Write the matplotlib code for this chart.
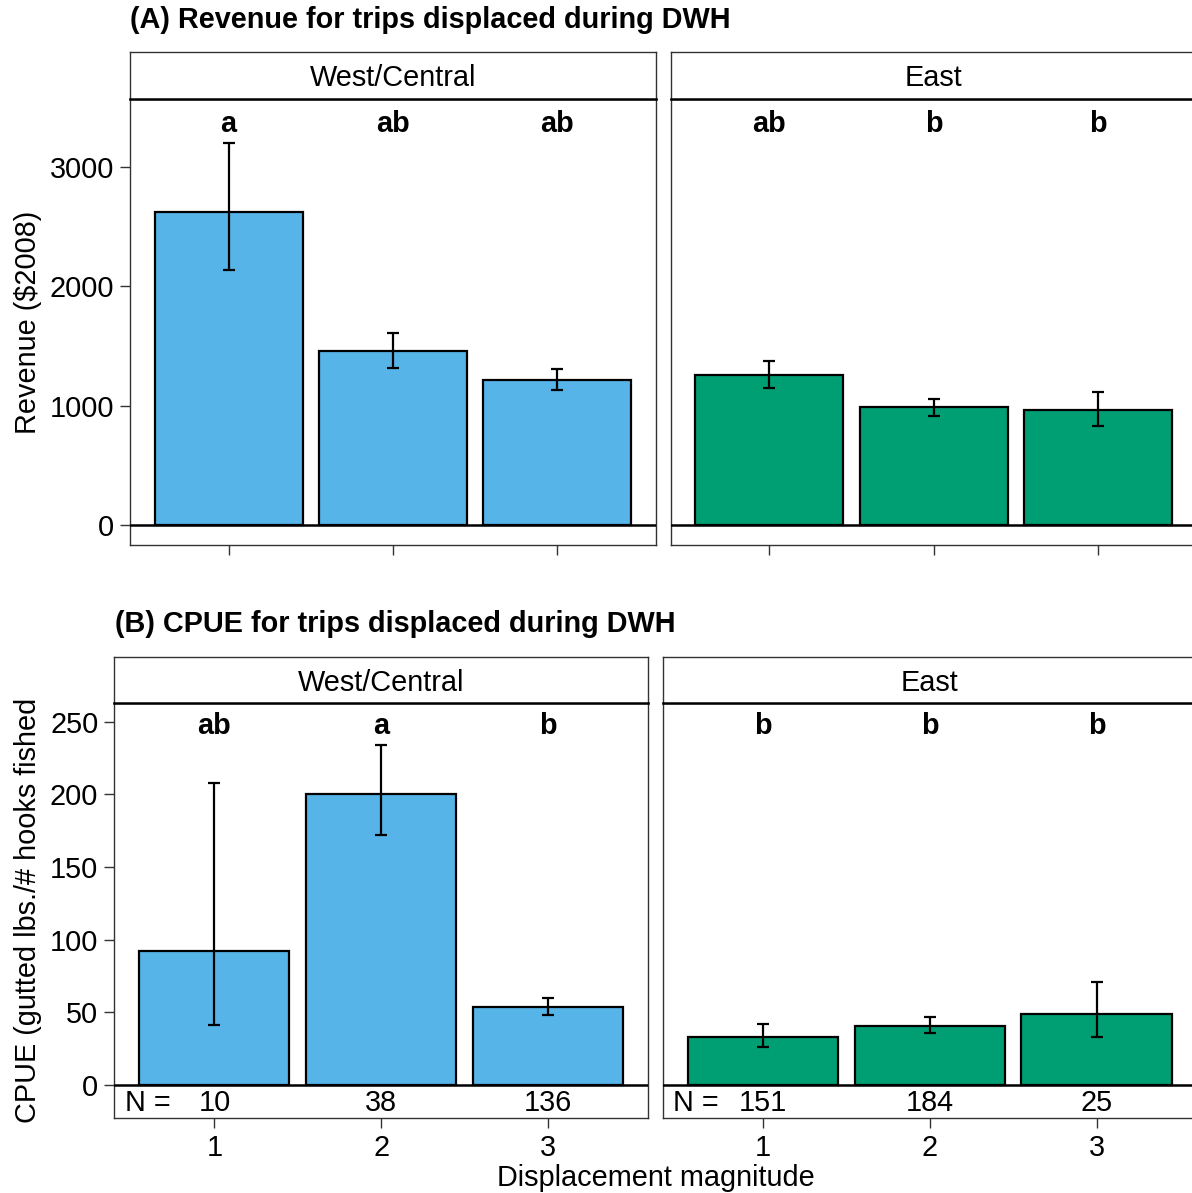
import matplotlib
matplotlib.use("Agg")
import matplotlib.pyplot as plt
import numpy as np

plt.rcParams["font.family"] = ["Liberation Sans", "DejaVu Sans"]

W, H, DPI = 1192, 1193, 100
FS = 20.8

magnitudes = [1, 2, 3]
regions = ["West/Central", "East"]
region_colors = ["#56B4E9", "#009E73"]

# (A) revenue per trip, $2008: means with lower/upper interval bounds
wc_revenue = [2620, 1458, 1211]
wc_revenue_lo = [2139, 1317, 1132]
wc_revenue_hi = [3197, 1611, 1304]
east_revenue = [1253, 985, 962]
east_revenue_lo = [1151, 917, 831]
east_revenue_hi = [1374, 1055, 1116]
wc_revenue_groups = ["a", "ab", "ab"]
east_revenue_groups = ["ab", "b", "b"]

# (B) CPUE: means with lower/upper interval bounds
wc_cpue = [92.3, 200.0, 53.2]
wc_cpue_lo = [41.0, 171.7, 48.3]
wc_cpue_hi = [208.1, 234.3, 59.5]
east_cpue = [32.9, 40.5, 48.6]
east_cpue_lo = [25.9, 35.8, 33.2]
east_cpue_hi = [42.0, 46.5, 71.0]
wc_cpue_groups = ["ab", "a", "b"]
east_cpue_groups = ["b", "b", "b"]

wc_n = [10, 38, 136]
east_n = [151, 184, 25]

revenue_ticks = [0, 1000, 2000, 3000]
cpue_ticks = [0, 50, 100, 150, 200, 250]

fig = plt.figure(figsize=(W / DPI, H / DPI), dpi=DPI)
fig.patch.set_facecolor("white")


def px_axes(left, top, right, bottom):
    return fig.add_axes([left / W, 1 - bottom / H, (right - left) / W, (bottom - top) / H])


def fig_text(x, y, s, **kw):
    fig.text(x / W, 1 - y / H, s, **kw)


def strip(left, top, right, bottom, label, base_frac):
    sax = px_axes(left, top, right, bottom)
    sax.set_xticks([])
    sax.set_yticks([])
    sax.set_facecolor("white")
    for side in ["top", "left", "right"]:
        sax.spines[side].set_color("#333333")
        sax.spines[side].set_linewidth(1.0)
    sax.spines["bottom"].set_color("black")
    sax.spines["bottom"].set_linewidth(1.8)
    sax.text(0.5, base_frac, label, transform=sax.transAxes, ha="center",
             va="baseline", fontsize=FS, color="black")


def panel(ax, means, lo, hi, groups, color, ylim, show_y, yticks):
    means = np.asarray(means, float)
    err = [means - np.asarray(lo), np.asarray(hi) - means]
    ax.bar(magnitudes, means, width=0.9, color=color, edgecolor="black",
           linewidth=1.6, zorder=2)
    ax.errorbar(magnitudes, means, yerr=err, fmt="none", ecolor="black",
                elinewidth=1.6, capsize=4.5, capthick=1.6, zorder=3)
    ax.axhline(0, color="black", linewidth=1.8, zorder=4)
    ax.set_xlim(0.4, 3.6)
    ax.set_ylim(*ylim)
    ax.set_xticks(magnitudes)
    for s in ax.spines.values():
        s.set_color("#333333")
        s.set_linewidth(1.0)
    ax.tick_params(axis="both", length=7, width=1.0, color="#333333",
                   labelsize=FS, labelcolor="black", pad=4.5)
    if show_y:
        ax.set_yticks(yticks)
    else:
        ax.set_yticks([])
    for x, g in zip(magnitudes, groups):
        ax.text(x, 0.925, g, transform=ax.get_xaxis_transform(), ha="center",
                va="baseline", fontsize=FS, fontweight="bold", color="black")


# ---- (A) Revenue ----
a_top, a_bot, a_strip = 98.7, 545.4, 51.7
a_cols = [(130.0, 656.0), (670.6, 1196.6)]
a_data = [
    (wc_revenue, wc_revenue_lo, wc_revenue_hi, wc_revenue_groups),
    (east_revenue, east_revenue_lo, east_revenue_hi, east_revenue_groups),
]
for i, ((l, r), (m, lo, hi, g)) in enumerate(zip(a_cols, a_data)):
    ax = px_axes(l, a_top, r, a_bot)
    panel(ax, m, lo, hi, g, region_colors[i], (-170, 3570), i == 0, revenue_ticks)
    ax.set_xticklabels([])
    strip(l, a_strip, r, a_top, regions[i], 0.27)

fig_text(130, 28, "(A) Revenue for trips displaced during DWH", fontsize=FS,
         fontweight="bold", ha="left", va="baseline")
fig_text(36, (a_top + a_bot) / 2, "Revenue ($2008)", fontsize=FS, rotation=90,
         rotation_mode="anchor", ha="center", va="baseline")

# ---- (B) CPUE ----
b_top, b_bot, b_strip = 702.9, 1118.1, 656.7
b_cols = [(114.3, 648.2), (662.7, 1196.7)]
b_data = [
    (wc_cpue, wc_cpue_lo, wc_cpue_hi, wc_cpue_groups, wc_n),
    (east_cpue, east_cpue_lo, east_cpue_hi, east_cpue_groups, east_n),
]
for i, ((l, r), (m, lo, hi, g, n)) in enumerate(zip(b_cols, b_data)):
    ax = px_axes(l, b_top, r, b_bot)
    panel(ax, m, lo, hi, g, region_colors[i], (-23, 263), i == 0, cpue_ticks)
    ax.set_xticklabels([str(v) for v in magnitudes])
    tr = ax.get_xaxis_transform()
    ax.text(0.6, 0.018, "N =", transform=tr, ha="center", va="baseline", fontsize=FS)
    for x, cnt in zip(magnitudes, n):
        ax.text(x, 0.018, str(cnt), transform=tr, ha="center", va="baseline", fontsize=FS)
    strip(l, b_strip, r, b_top, regions[i], 0.265)

fig_text(115, 632, "(B) CPUE for trips displaced during DWH", fontsize=FS,
         fontweight="bold", ha="left", va="baseline")
fig_text(36, 910, "CPUE (gutted lbs./# hooks fished", fontsize=FS, rotation=90,
         rotation_mode="anchor", ha="center", va="baseline")
fig_text((114.3 + 1196.7) / 2, 1186, "Displacement magnitude", fontsize=FS,
         ha="center", va="baseline")

fig.savefig("out.png", dpi=DPI, facecolor="white")
